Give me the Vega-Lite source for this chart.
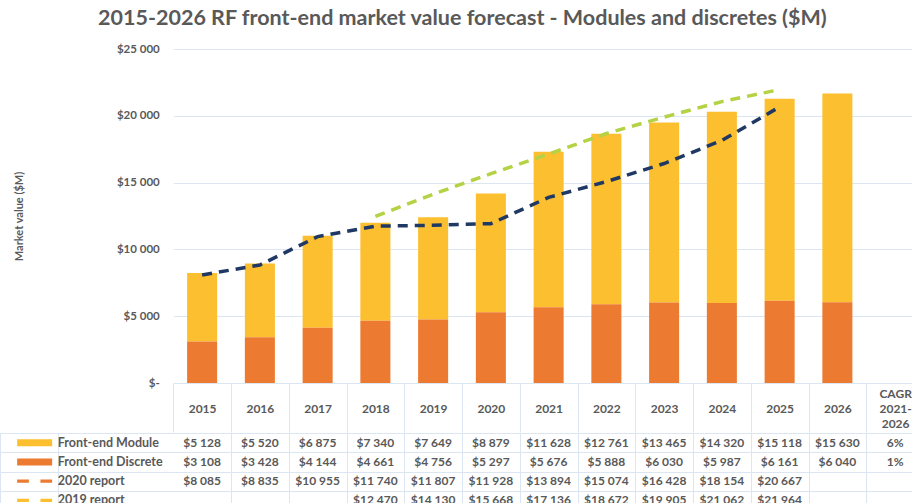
{
  "$schema": "https://vega.github.io/schema/vega-lite/v6.json",
  "padding": {"left": 0, "top": 7, "right": 0, "bottom": 0},
  "background": "white",
  "config": {
    "locale": {"number": {"decimal": ".", "thousands": " ", "grouping": [3], "currency": ["$", ""]}},
    "font": "Lato",
    "view": {"stroke": null},
    "concat": {"spacing": 0}
  },
  "title": {
    "text": "2015-2026 RF front-end market value forecast - Modules and discretes ($M)",
    "fontSize": 21.5, "font": "Lato", "fontWeight": "bold", "color": "#595959",
    "anchor": "middle", "offset": 14
  },
  "spacing": 0,
  "datasets": {
    "main": [
      {"year": "2015", "series": "Front-end Module", "value": 5128},
      {"year": "2016", "series": "Front-end Module", "value": 5520},
      {"year": "2017", "series": "Front-end Module", "value": 6875},
      {"year": "2018", "series": "Front-end Module", "value": 7340},
      {"year": "2019", "series": "Front-end Module", "value": 7649},
      {"year": "2020", "series": "Front-end Module", "value": 8879},
      {"year": "2021", "series": "Front-end Module", "value": 11628},
      {"year": "2022", "series": "Front-end Module", "value": 12761},
      {"year": "2023", "series": "Front-end Module", "value": 13465},
      {"year": "2024", "series": "Front-end Module", "value": 14320},
      {"year": "2025", "series": "Front-end Module", "value": 15118},
      {"year": "2026", "series": "Front-end Module", "value": 15630},
      {"year": "2015", "series": "Front-end Discrete", "value": 3108},
      {"year": "2016", "series": "Front-end Discrete", "value": 3428},
      {"year": "2017", "series": "Front-end Discrete", "value": 4144},
      {"year": "2018", "series": "Front-end Discrete", "value": 4661},
      {"year": "2019", "series": "Front-end Discrete", "value": 4756},
      {"year": "2020", "series": "Front-end Discrete", "value": 5297},
      {"year": "2021", "series": "Front-end Discrete", "value": 5676},
      {"year": "2022", "series": "Front-end Discrete", "value": 5888},
      {"year": "2023", "series": "Front-end Discrete", "value": 6030},
      {"year": "2024", "series": "Front-end Discrete", "value": 5987},
      {"year": "2025", "series": "Front-end Discrete", "value": 6161},
      {"year": "2026", "series": "Front-end Discrete", "value": 6040},
      {"year": "2015", "series": "2020 report", "value": 8085},
      {"year": "2016", "series": "2020 report", "value": 8835},
      {"year": "2017", "series": "2020 report", "value": 10955},
      {"year": "2018", "series": "2020 report", "value": 11740},
      {"year": "2019", "series": "2020 report", "value": 11807},
      {"year": "2020", "series": "2020 report", "value": 11928},
      {"year": "2021", "series": "2020 report", "value": 13894},
      {"year": "2022", "series": "2020 report", "value": 15074},
      {"year": "2023", "series": "2020 report", "value": 16428},
      {"year": "2024", "series": "2020 report", "value": 18154},
      {"year": "2025", "series": "2020 report", "value": 20667},
      {"year": "2018", "series": "2019 report", "value": 12470},
      {"year": "2019", "series": "2019 report", "value": 14130},
      {"year": "2020", "series": "2019 report", "value": 15668},
      {"year": "2021", "series": "2019 report", "value": 17136},
      {"year": "2022", "series": "2019 report", "value": 18672},
      {"year": "2023", "series": "2019 report", "value": 19905},
      {"year": "2024", "series": "2019 report", "value": 21062},
      {"year": "2025", "series": "2019 report", "value": 21964}
    ],
    "cagr": [
      {"series": "Front-end Module", "cagr": 0.06},
      {"series": "Front-end Discrete", "cagr": 0.01}
    ],
    "rows": [
      {"series": "Front-end Module"},
      {"series": "Front-end Discrete"},
      {"series": "2020 report"},
      {"series": "2019 report"}
    ]
  },
  "vconcat": [
    {
      "width": 924,
      "height": 334,
      "data": {"name": "main"},
      "encoding": {
        "x": {
          "field": "year", "type": "nominal",
          "scale": {"domain": ["s","l","l2","2015","2016","2017","2018","2019","2020","2021","2022","2023","2024","2025","2026","CAGR"], "paddingInner": 0, "paddingOuter": 0},
          "axis": {
            "title": null,
            "values": ["2015","2016","2017","2018","2019","2020","2021","2022","2023","2024","2025","2026","CAGR"],
            "tickBand": "extent", "tickSize": 49, "tickColor": "#DCE6F2", "tickWidth": 1,
            "domain": false, "grid": false, "labelAngle": 0,
            "labelPadding": -39, "labelBaseline": "middle",
            "labelExpr": "datum.value == 'CAGR' ? ['CAGR', '2021-', '2026'] : ['', datum.label, '']",
            "labelLineHeight": 15,
            "labelFont": "Lato", "labelFontWeight": "bold", "labelFontSize": 12, "labelColor": "#595959"
          }
        }
      },
      "layer": [
        {
          "transform": [{"filter": "datum.series == 'Front-end Module' || datum.series == 'Front-end Discrete'"}],
          "mark": {"type": "bar", "width": {"band": 0.52}},
          "encoding": {
            "y": {
              "field": "value", "type": "quantitative", "stack": "zero",
              "scale": {"domain": [0, 25000], "nice": false},
              "axis": {
                "orient": "left", "offset": -173.25,
                "values": [0, 5000, 10000, 15000, 20000, 25000],
                "format": "$,.0f",
                "labelExpr": "datum.value == 0 ? '$-\u00a0\u00a0\u00a0' : datum.label",
                "labelFont": "Lato", "labelFontWeight": "bold", "labelFontSize": 11.5, "labelColor": "#595959",
                "labelPadding": 765,
                "domain": false, "grid": false,
                "tickSize": -751, "tickColor": "#DCE6F2", "tickWidth": 1,
                "title": "Market value ($M)",
                "titleFont": "Lato", "titleFontWeight": "bold", "titleFontSize": 11, "titleColor": "#595959",
                "titlePadding": 92
              }
            },
            "color": {
              "field": "series", "type": "nominal",
              "scale": {"domain": ["Front-end Discrete", "Front-end Module"], "range": ["#EC7A30", "#FCBF2F"]},
              "legend": null
            },
            "order": {"field": "series", "type": "nominal", "sort": "ascending"}
          }
        },
        {
          "transform": [{"filter": "datum.series == '2019 report'"}],
          "mark": {"type": "line", "strokeDash": [10, 7], "strokeWidth": 3.5, "color": "#B4D243"},
          "encoding": {"y": {"field": "value", "type": "quantitative"}}
        },
        {
          "transform": [{"filter": "datum.series == '2020 report'"}],
          "mark": {"type": "line", "strokeDash": [10, 7], "strokeWidth": 3.5, "color": "#1F3864"},
          "encoding": {"y": {"field": "value", "type": "quantitative"}}
        }
      ]
    },
    {
      "width": 924,
      "height": 77,
      "encoding": {
        "y": {
          "field": "series", "type": "nominal",
          "scale": {"domain": ["Front-end Module", "Front-end Discrete", "2020 report", "2019 report"], "paddingInner": 0, "paddingOuter": 0},
          "axis": {"title": null, "labels": false, "ticks": false, "domain": false, "grid": true, "tickBand": "extent", "gridColor": "#DCE6F2"}
        }
      },
      "layer": [
        {
          "data": {"name": "main"},
          "mark": {"type": "text", "font": "Lato", "fontWeight": "bold", "fontSize": 12, "color": "#595959"},
          "encoding": {
            "x": {
              "field": "year", "type": "nominal",
              "scale": {"domain": ["s","l","l2","2015","2016","2017","2018","2019","2020","2021","2022","2023","2024","2025","2026","CAGR"], "paddingInner": 0, "paddingOuter": 0},
              "axis": {"title": null, "labels": false, "ticks": false, "domain": false, "grid": true, "tickBand": "extent", "gridColor": "#DCE6F2",
                "values": ["s","2015","2016","2017","2018","2019","2020","2021","2022","2023","2024","2025","2026","CAGR"]}
            },
            "text": {"field": "value", "type": "quantitative", "format": "$,.0f"}
          }
        },
        {
          "data": {"name": "cagr"},
          "mark": {"type": "text", "font": "Lato", "fontWeight": "bold", "fontSize": 12, "color": "#595959"},
          "encoding": {
            "x": {"datum": "CAGR"},
            "text": {"field": "cagr", "type": "quantitative", "format": ".0%"}
          }
        },
        {
          "data": {"name": "rows"},
          "mark": {"type": "text", "font": "Lato", "fontWeight": "bold", "fontSize": 12.5, "color": "#595959", "align": "left"},
          "encoding": {
            "x": {"datum": "l", "bandPosition": 0},
            "text": {"field": "series", "type": "nominal"}
          }
        },
        {
          "data": {"name": "rows"},
          "mark": {"type": "point", "filled": true, "size": 1225, "opacity": 1},
          "encoding": {
            "x": {"datum": "s", "bandPosition": 0.6},
            "shape": {
              "field": "series", "type": "nominal",
              "scale": {"domain": ["Front-end Module", "Front-end Discrete", "2020 report", "2019 report"],
                "range": ["M-1,-0.2H1V0.2H-1Z", "M-1,-0.2H1V0.2H-1Z", "M-1,-0.09H-0.33V0.09H-1Z M0.33,-0.09H1V0.09H0.33Z", "M-1,-0.09H-0.33V0.09H-1Z M0.33,-0.09H1V0.09H0.33Z"]},
              "legend": null
            },
            "color": {
              "field": "series", "type": "nominal",
              "scale": {"domain": ["Front-end Module", "Front-end Discrete", "2020 report", "2019 report"],
                "range": ["#FCBF2F", "#EC7A30", "#1F3864", "#B4D243"]},
              "legend": null
            }
          }
        }
      ]
    }
  ]
}
